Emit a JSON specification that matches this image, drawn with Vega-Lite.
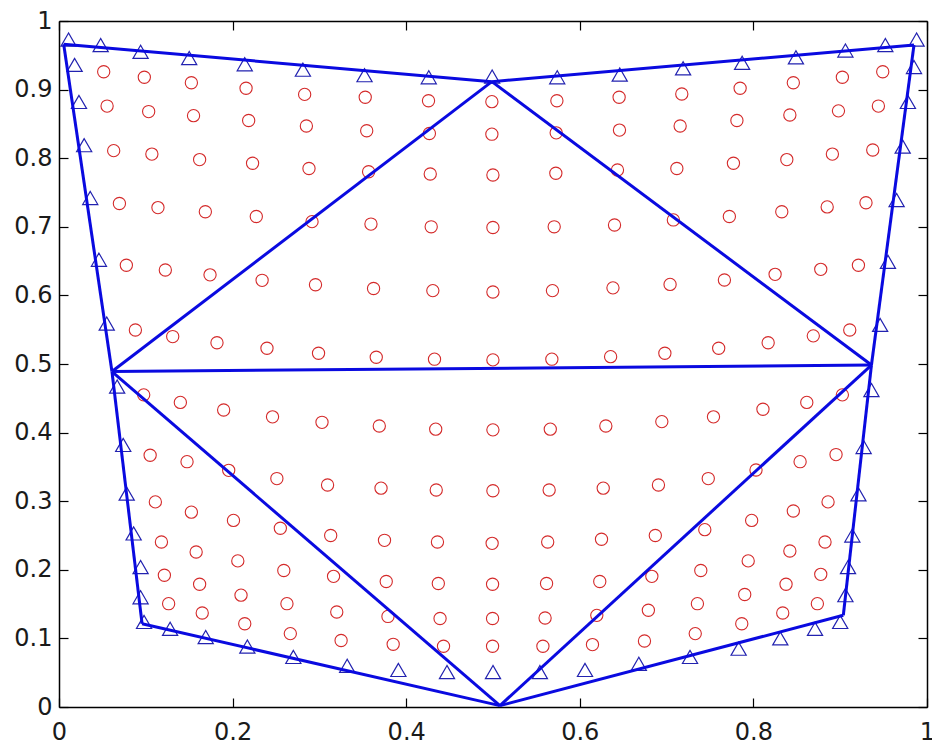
{
  "$schema": "https://vega.github.io/schema/vega-lite/v6.json",
  "width": 868,
  "height": 686,
  "autosize": {"type": "none"},
  "padding": {"left": 59, "top": 21, "right": 5, "bottom": 40},
  "background": "white",
  "config": {
    "view": {"stroke": null},
    "axis": {
      "domainColor": "black",
      "domainWidth": 1.5,
      "tickColor": "black",
      "tickWidth": 1.2,
      "tickSize": -9,
      "labelFont": "DejaVu Sans",
      "labelFontSize": 24,
      "labelColor": "#1a1a1a",
      "format": "~g",
      "grid": false,
      "title": null,
      "labelOverlap": false,
      "labelFlush": false,
      "labelBound": false
    }
  },
  "datasets": {
    "edges": [
      {"x1": 0.0054, "y1": 0.966, "x2": 0.4987, "y2": 0.9116},
      {"x1": 0.4987, "y1": 0.9116, "x2": 0.985, "y2": 0.965},
      {"x1": 0.0054, "y1": 0.966, "x2": 0.061, "y2": 0.489},
      {"x1": 0.985, "y1": 0.965, "x2": 0.936, "y2": 0.4985},
      {"x1": 0.061, "y1": 0.489, "x2": 0.4987, "y2": 0.9116},
      {"x1": 0.4987, "y1": 0.9116, "x2": 0.936, "y2": 0.4985},
      {"x1": 0.061, "y1": 0.489, "x2": 0.936, "y2": 0.4985},
      {"x1": 0.061, "y1": 0.489, "x2": 0.0957, "y2": 0.1214},
      {"x1": 0.0957, "y1": 0.1214, "x2": 0.508, "y2": 0.002},
      {"x1": 0.508, "y1": 0.002, "x2": 0.9036, "y2": 0.1337},
      {"x1": 0.9036, "y1": 0.1337, "x2": 0.936, "y2": 0.4985},
      {"x1": 0.061, "y1": 0.489, "x2": 0.508, "y2": 0.002},
      {"x1": 0.508, "y1": 0.002, "x2": 0.936, "y2": 0.4985}
    ],
    "tri": [
      {"x": 0.011, "y": 0.973}, {"x": 0.048, "y": 0.965}, {"x": 0.094, "y": 0.955}, {"x": 0.150, "y": 0.946},
      {"x": 0.214, "y": 0.937}, {"x": 0.281, "y": 0.929}, {"x": 0.352, "y": 0.921}, {"x": 0.426, "y": 0.918},
      {"x": 0.499, "y": 0.919}, {"x": 0.574, "y": 0.918}, {"x": 0.646, "y": 0.922}, {"x": 0.719, "y": 0.931},
      {"x": 0.787, "y": 0.939}, {"x": 0.849, "y": 0.947}, {"x": 0.906, "y": 0.957}, {"x": 0.952, "y": 0.965},
      {"x": 0.988, "y": 0.973},
      {"x": 0.985, "y": 0.933}, {"x": 0.978, "y": 0.882}, {"x": 0.972, "y": 0.817}, {"x": 0.965, "y": 0.739},
      {"x": 0.955, "y": 0.649}, {"x": 0.946, "y": 0.557}, {"x": 0.936, "y": 0.462}, {"x": 0.927, "y": 0.379},
      {"x": 0.921, "y": 0.310}, {"x": 0.914, "y": 0.250}, {"x": 0.909, "y": 0.204}, {"x": 0.906, "y": 0.163},
      {"x": 0.900, "y": 0.124},
      {"x": 0.871, "y": 0.114}, {"x": 0.831, "y": 0.100}, {"x": 0.783, "y": 0.085}, {"x": 0.727, "y": 0.073},
      {"x": 0.668, "y": 0.063}, {"x": 0.606, "y": 0.054}, {"x": 0.554, "y": 0.051}, {"x": 0.500, "y": 0.051},
      {"x": 0.447, "y": 0.051}, {"x": 0.391, "y": 0.054}, {"x": 0.332, "y": 0.060}, {"x": 0.270, "y": 0.073},
      {"x": 0.217, "y": 0.088}, {"x": 0.169, "y": 0.102}, {"x": 0.128, "y": 0.114}, {"x": 0.098, "y": 0.124},
      {"x": 0.094, "y": 0.160}, {"x": 0.094, "y": 0.204}, {"x": 0.086, "y": 0.253}, {"x": 0.078, "y": 0.311},
      {"x": 0.074, "y": 0.382}, {"x": 0.067, "y": 0.467}, {"x": 0.055, "y": 0.559}, {"x": 0.046, "y": 0.652},
      {"x": 0.036, "y": 0.742}, {"x": 0.029, "y": 0.819}, {"x": 0.023, "y": 0.882}, {"x": 0.018, "y": 0.936}
    ],
    "circ": [
      {"x": 0.0515, "y": 0.926}, {"x": 0.0983, "y": 0.918}, {"x": 0.1525, "y": 0.910}, {"x": 0.2155, "y": 0.902}, {"x": 0.283, "y": 0.893},
      {"x": 0.3528, "y": 0.8888}, {"x": 0.4257, "y": 0.8838}, {"x": 0.4987, "y": 0.8824}, {"x": 0.5736, "y": 0.8838}, {"x": 0.6453, "y": 0.8888},
      {"x": 0.7175, "y": 0.8936}, {"x": 0.7847, "y": 0.902}, {"x": 0.846, "y": 0.910}, {"x": 0.9025, "y": 0.918}, {"x": 0.949, "y": 0.926},

      {"x": 0.0554, "y": 0.876}, {"x": 0.1033, "y": 0.868}, {"x": 0.155, "y": 0.862}, {"x": 0.2185, "y": 0.855}, {"x": 0.285, "y": 0.847},
      {"x": 0.3545, "y": 0.840}, {"x": 0.4267, "y": 0.836}, {"x": 0.4987, "y": 0.835}, {"x": 0.5728, "y": 0.837}, {"x": 0.6457, "y": 0.841},
      {"x": 0.7156, "y": 0.847}, {"x": 0.781, "y": 0.855}, {"x": 0.842, "y": 0.863}, {"x": 0.898, "y": 0.869}, {"x": 0.944, "y": 0.876},

      {"x": 0.063, "y": 0.811}, {"x": 0.107, "y": 0.806}, {"x": 0.162, "y": 0.798}, {"x": 0.223, "y": 0.7926}, {"x": 0.288, "y": 0.785},
      {"x": 0.3567, "y": 0.7803}, {"x": 0.4277, "y": 0.777}, {"x": 0.4999, "y": 0.7755}, {"x": 0.5724, "y": 0.778}, {"x": 0.6434, "y": 0.7828},
      {"x": 0.7118, "y": 0.785}, {"x": 0.777, "y": 0.7926}, {"x": 0.8385, "y": 0.798}, {"x": 0.891, "y": 0.806}, {"x": 0.9375, "y": 0.812},

      {"x": 0.0696, "y": 0.734}, {"x": 0.114, "y": 0.728}, {"x": 0.1686, "y": 0.722}, {"x": 0.2273, "y": 0.715}, {"x": 0.2915, "y": 0.7075},
      {"x": 0.3594, "y": 0.704}, {"x": 0.4288, "y": 0.700}, {"x": 0.4999, "y": 0.699}, {"x": 0.5705, "y": 0.700}, {"x": 0.640, "y": 0.7026},
      {"x": 0.7078, "y": 0.710}, {"x": 0.7723, "y": 0.715}, {"x": 0.8327, "y": 0.722}, {"x": 0.885, "y": 0.729}, {"x": 0.9297, "y": 0.735},

      {"x": 0.0776, "y": 0.644}, {"x": 0.1225, "y": 0.637}, {"x": 0.174, "y": 0.630}, {"x": 0.234, "y": 0.622}, {"x": 0.2955, "y": 0.6155},
      {"x": 0.3624, "y": 0.610}, {"x": 0.4307, "y": 0.607}, {"x": 0.4999, "y": 0.605}, {"x": 0.5685, "y": 0.607}, {"x": 0.6382, "y": 0.611},
      {"x": 0.704, "y": 0.616}, {"x": 0.7666, "y": 0.6224}, {"x": 0.825, "y": 0.6307}, {"x": 0.8776, "y": 0.638}, {"x": 0.921, "y": 0.644},

      {"x": 0.088, "y": 0.5496}, {"x": 0.131, "y": 0.540}, {"x": 0.182, "y": 0.531}, {"x": 0.2396, "y": 0.523}, {"x": 0.299, "y": 0.5156},
      {"x": 0.3655, "y": 0.5098}, {"x": 0.4326, "y": 0.507}, {"x": 0.4999, "y": 0.506}, {"x": 0.5678, "y": 0.507}, {"x": 0.6355, "y": 0.5107},
      {"x": 0.698, "y": 0.5156}, {"x": 0.760, "y": 0.523}, {"x": 0.817, "y": 0.531}, {"x": 0.869, "y": 0.541}, {"x": 0.911, "y": 0.5496},

      {"x": 0.0976, "y": 0.455}, {"x": 0.1398, "y": 0.444}, {"x": 0.1897, "y": 0.433}, {"x": 0.246, "y": 0.423}, {"x": 0.303, "y": 0.415},
      {"x": 0.369, "y": 0.4096}, {"x": 0.434, "y": 0.405}, {"x": 0.4999, "y": 0.404}, {"x": 0.566, "y": 0.405}, {"x": 0.630, "y": 0.4096},
      {"x": 0.6945, "y": 0.416}, {"x": 0.754, "y": 0.423}, {"x": 0.811, "y": 0.434}, {"x": 0.8615, "y": 0.444}, {"x": 0.9025, "y": 0.455},

      {"x": 0.105, "y": 0.367}, {"x": 0.1475, "y": 0.3576}, {"x": 0.1955, "y": 0.345}, {"x": 0.251, "y": 0.333}, {"x": 0.3094, "y": 0.3236},
      {"x": 0.371, "y": 0.319}, {"x": 0.4346, "y": 0.3163}, {"x": 0.4999, "y": 0.3153}, {"x": 0.5647, "y": 0.3163}, {"x": 0.627, "y": 0.319},
      {"x": 0.6906, "y": 0.3236}, {"x": 0.748, "y": 0.333}, {"x": 0.803, "y": 0.3455}, {"x": 0.8538, "y": 0.3576}, {"x": 0.8952, "y": 0.368},

      {"x": 0.111, "y": 0.299}, {"x": 0.1525, "y": 0.284}, {"x": 0.201, "y": 0.272}, {"x": 0.255, "y": 0.2605}, {"x": 0.313, "y": 0.250},
      {"x": 0.375, "y": 0.243}, {"x": 0.436, "y": 0.2405}, {"x": 0.499, "y": 0.2386}, {"x": 0.563, "y": 0.2405}, {"x": 0.625, "y": 0.2445},
      {"x": 0.687, "y": 0.250}, {"x": 0.744, "y": 0.2585}, {"x": 0.798, "y": 0.272}, {"x": 0.846, "y": 0.2857}, {"x": 0.886, "y": 0.299},

      {"x": 0.118, "y": 0.2405}, {"x": 0.158, "y": 0.226}, {"x": 0.206, "y": 0.213}, {"x": 0.259, "y": 0.199}, {"x": 0.3163, "y": 0.1905},
      {"x": 0.377, "y": 0.183}, {"x": 0.437, "y": 0.180}, {"x": 0.4995, "y": 0.179}, {"x": 0.5617, "y": 0.180}, {"x": 0.623, "y": 0.183},
      {"x": 0.683, "y": 0.1905}, {"x": 0.7394, "y": 0.199}, {"x": 0.794, "y": 0.213}, {"x": 0.842, "y": 0.2274}, {"x": 0.8825, "y": 0.2405},

      {"x": 0.1214, "y": 0.192}, {"x": 0.162, "y": 0.179}, {"x": 0.2097, "y": 0.163}, {"x": 0.2626, "y": 0.1506}, {"x": 0.320, "y": 0.1385},
      {"x": 0.379, "y": 0.132}, {"x": 0.439, "y": 0.129}, {"x": 0.4995, "y": 0.129}, {"x": 0.560, "y": 0.1297}, {"x": 0.6196, "y": 0.1336},
      {"x": 0.679, "y": 0.141}, {"x": 0.7355, "y": 0.1506}, {"x": 0.790, "y": 0.164}, {"x": 0.8376, "y": 0.179}, {"x": 0.8776, "y": 0.1934},

      {"x": 0.1263, "y": 0.1506}, {"x": 0.165, "y": 0.137}, {"x": 0.214, "y": 0.1214}, {"x": 0.2665, "y": 0.107}, {"x": 0.325, "y": 0.097},
      {"x": 0.385, "y": 0.0914}, {"x": 0.443, "y": 0.0885}, {"x": 0.4995, "y": 0.0885}, {"x": 0.5575, "y": 0.0885}, {"x": 0.6146, "y": 0.091},
      {"x": 0.6745, "y": 0.0962}, {"x": 0.733, "y": 0.107}, {"x": 0.7866, "y": 0.1214}, {"x": 0.8338, "y": 0.137}, {"x": 0.8737, "y": 0.1506}
    ]
  },
  "layer": [
    {
      "data": {"name": "circ"},
      "mark": {"type": "point", "shape": "circle", "filled": false, "size": 150, "stroke": "#d42a2a", "strokeWidth": 1.1, "opacity": 1},
      "encoding": {
        "x": {"field": "x", "type": "quantitative", "scale": {"domain": [0, 1], "nice": false, "zero": false},
              "axis": {"orient": "top", "labels": false, "values": [0, 0.2, 0.4, 0.6, 0.8, 1]}},
        "y": {"field": "y", "type": "quantitative", "scale": {"domain": [0, 1], "nice": false, "zero": false},
              "axis": {"orient": "right", "labels": false, "values": [0, 0.1, 0.2, 0.3, 0.4, 0.5, 0.6, 0.7, 0.8, 0.9, 1]}}
      }
    },
    {
      "data": {"name": "tri"},
      "mark": {"type": "point", "shape": "triangle-up", "filled": false, "size": 230, "stroke": "#2222b0", "strokeWidth": 1.2, "opacity": 1},
      "encoding": {
        "x": {"field": "x", "type": "quantitative", "axis": null},
        "y": {"field": "y", "type": "quantitative", "axis": null}
      }
    },
    {
      "data": {"name": "edges"},
      "mark": {"type": "rule", "color": "#0a0ae0", "strokeWidth": 3},
      "encoding": {
        "x": {"field": "x1", "type": "quantitative",
              "axis": {"orient": "bottom", "values": [0, 0.2, 0.4, 0.6, 0.8, 1], "labelPadding": 22}},
        "y": {"field": "y1", "type": "quantitative",
              "axis": {"orient": "left", "values": [0, 0.1, 0.2, 0.3, 0.4, 0.5, 0.6, 0.7, 0.8, 0.9, 1], "labelPadding": 16}},
        "x2": {"field": "x2"},
        "y2": {"field": "y2"}
      }
    }
  ],
  "resolve": {"axis": {"x": "independent", "y": "independent"}}
}
